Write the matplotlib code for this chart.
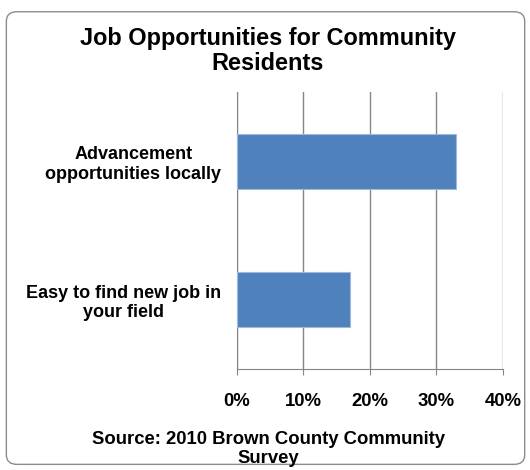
import matplotlib.pyplot as plt
from matplotlib.patches import FancyBboxPatch

categories = ['Easy to find new job in\nyour field', 'Advancement\nopportunities locally']
values = [17, 33]
xticks = [0, 10, 20, 30, 40]
xtick_labels = ['0%', '10%', '20%', '30%', '40%']

plt.rcParams['font.family'] = ['Liberation Sans', 'DejaVu Sans']
plt.rcParams['font.weight'] = 'bold'

fig = plt.figure(figsize=(5.3, 4.7), dpi=100)
ax = fig.add_axes([0.4466, 0.215, 0.5025, 0.589])

# rounded chart border
border = FancyBboxPatch((0.012, 0.012), 0.978, 0.963, boxstyle='round,pad=0,rounding_size=0.02',
                        transform=fig.transFigure, facecolor='none', edgecolor='#8c8c8c', linewidth=1)
fig.patches.append(border)

ax.barh(range(len(categories)), values, height=0.4, color='#4F81BD', edgecolor='#9DB9DE', linewidth=0.8, zorder=3)
ax.set_xlim(0, 40)
ax.set_ylim(-0.5, 1.5)
ax.set_xticks(xticks)
ax.set_xticklabels(xtick_labels, fontsize=13.3, fontweight='bold')
ax.set_yticks(range(len(categories)))
ax.set_yticklabels(categories, fontsize=13, fontweight='bold', ha='right', multialignment='center')
ax.tick_params(axis='y', length=0, pad=11)
ax.tick_params(axis='x', length=4, color='#868686', pad=13)
ax.xaxis.grid(True, color='#868686', linewidth=1)
ax.set_axisbelow(True)
for s in ['top', 'right']:
    ax.spines[s].set_visible(False)
for s in ['left', 'bottom']:
    ax.spines[s].set_color('#868686')

fig.text(0.505, 0.891, 'Job Opportunities for Community\nResidents', ha='center', va='center',
         fontsize=16.9, fontweight='bold', linespacing=1.12)
fig.text(0.506, 0.045, 'Source: 2010 Brown County Community\nSurvey', ha='center', va='center',
         fontsize=13.3, fontweight='bold', linespacing=1.12)

fig.savefig('out.png', dpi=100)
